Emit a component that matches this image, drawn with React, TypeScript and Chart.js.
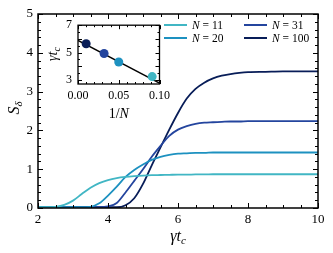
import React, { useEffect, useRef } from "react";
import { Chart, registerables } from "chart.js";
Chart.register(...registerables);

// ---- data ----
const tGrid = [2, 2.25, 2.5, 2.75, 3, 3.25, 3.5, 3.75, 4, 4.25, 4.5, 4.75, 5, 5.25, 5.5, 5.75, 6, 6.25, 6.5, 6.75, 7, 7.25, 7.5, 7.75, 8, 8.5, 9, 9.5, 10];
const sN11 = [0.02, 0.02, 0.03, 0.08, 0.19, 0.36, 0.52, 0.64, 0.72, 0.77, 0.8, 0.82, 0.835, 0.845, 0.85, 0.855, 0.86, 0.86, 0.865, 0.865, 0.87, 0.87, 0.87, 0.87, 0.87, 0.87, 0.87, 0.87, 0.87];
const sN20 = [0.02, 0.02, 0.02, 0.02, 0.02, 0.02, 0.03, 0.12, 0.32, 0.55, 0.8, 0.98, 1.12, 1.24, 1.32, 1.37, 1.4, 1.41, 1.42, 1.42, 1.43, 1.43, 1.43, 1.43, 1.43, 1.43, 1.43, 1.43, 1.43];
const sN31 = [0.02, 0.02, 0.02, 0.02, 0.02, 0.02, 0.02, 0.02, 0.04, 0.13, 0.4, 0.7, 1.0, 1.32, 1.6, 1.86, 2.02, 2.11, 2.17, 2.2, 2.21, 2.22, 2.23, 2.23, 2.24, 2.24, 2.24, 2.24, 2.24];
const sN100 = [0.02, 0.02, 0.02, 0.02, 0.02, 0.02, 0.02, 0.02, 0.02, 0.02, 0.07, 0.25, 0.62, 1.1, 1.56, 2.02, 2.45, 2.82, 3.07, 3.23, 3.34, 3.41, 3.45, 3.48, 3.5, 3.51, 3.52, 3.52, 3.52];
const seriesLabels = ["11", "20", "31", "100"];
const seriesColors = ["#41b6c4", "#1d91c0", "#24459e", "#081d58"];
const mainXTicks = [2, 4, 6, 8, 10];
const mainYTicks = [0, 1, 2, 3, 4, 5];

// inset
const invN = [0.091, 0.05, 0.032, 0.01];
const tcVals = [3.24, 4.31, 4.93, 5.64];
const pointColors = ["#41b6c4", "#1d91c0", "#24459e", "#081d58"];
const fitX = [0, 0.1];
const fitY = [5.89, 2.76];
const insetXTicks = [0, 0.05, 0.1];
const insetYTicks = [3, 5, 7];

const SERIF = "'Liberation Serif', 'DejaVu Serif', serif";

function line(ctx: CanvasRenderingContext2D, x1: number, y1: number, x2: number, y2: number) {
  ctx.beginPath();
  ctx.moveTo(x1, y1);
  ctx.lineTo(x2, y2);
  ctx.stroke();
}

function drawSubText(ctx: CanvasRenderingContext2D, main: string, sub: string, x: number, y: number, size: number, subSize: number, subDrop: number) {
  ctx.font = `italic ${size}px ${SERIF}`;
  const w1 = ctx.measureText(main).width;
  ctx.font = `italic ${subSize}px ${SERIF}`;
  const w2 = ctx.measureText(sub).width;
  const x0 = x - (w1 + w2) / 2;
  ctx.textAlign = "left";
  ctx.textBaseline = "alphabetic";
  ctx.font = `italic ${size}px ${SERIF}`;
  ctx.fillText(main, x0, y);
  ctx.font = `italic ${subSize}px ${SERIF}`;
  ctx.fillText(sub, x0 + w1, y + subDrop);
}

function drawTicks(chart: any, xMin: number, xMax: number, xStep: number, xMajorEvery: number, yMin: number, yMax: number, yStep: number, yMajorEvery: number, majL: number, minL: number) {
  const ctx = chart.ctx as CanvasRenderingContext2D;
  const a = chart.chartArea;
  const xs = chart.scales.x;
  const ys = chart.scales.y;
  ctx.strokeStyle = "#000";
  ctx.lineWidth = 1;
  const nx = Math.round((xMax - xMin) / xStep);
  for (let i = 0; i <= nx; i++) {
    const v = xMin + i * xStep;
    const px = Math.round(xs.getPixelForValue(v)) + 0.5;
    const L = i % xMajorEvery === 0 ? majL : minL;
    line(ctx, px, a.bottom, px, a.bottom - L);
    line(ctx, px, a.top, px, a.top + L);
  }
  const yStart = Math.ceil((yMin - 1e-9) / yStep);
  const yEnd = Math.floor((yMax + 1e-9) / yStep);
  for (let j = yStart; j <= yEnd; j++) {
    const v = j * yStep;
    const py = Math.round(ys.getPixelForValue(v)) + 0.5;
    const L = j % yMajorEvery === 0 ? majL : minL;
    line(ctx, a.left, py, a.left + L, py);
    line(ctx, a.right, py, a.right - L, py);
  }
}

const mainDecor = {
  id: "mainDecor",
  afterDraw(chart: any) {
    const ctx = chart.ctx as CanvasRenderingContext2D;
    const a = chart.chartArea;
    ctx.save();
    drawTicks(chart, 2, 10, 0.5, 4, 0, 5, 0.2, 5, 5, 3);
    ctx.lineWidth = 1.5;
    ctx.strokeStyle = "#000";
    ctx.strokeRect(a.left, a.top, a.right - a.left, a.bottom - a.top);

    // legend (two columns)
    const cols = [164, 244];
    const rows = [25, 38];
    for (let k = 0; k < seriesLabels.length; k++) {
      const c = Math.floor(k / 2);
      const r = k % 2;
      const x = cols[c];
      const y = rows[r];
      ctx.strokeStyle = seriesColors[k];
      ctx.lineWidth = 2;
      line(ctx, x, y, x + 23, y);
      ctx.fillStyle = "#000";
      ctx.textBaseline = "middle";
      ctx.textAlign = "left";
      ctx.font = `italic 11.5px ${SERIF}`;
      const tx = x + 28;
      ctx.fillText("N", tx, y + 0.5);
      const wN = ctx.measureText("N").width;
      ctx.font = `11.5px ${SERIF}`;
      ctx.fillText(" = " + seriesLabels[k], tx + wN, y + 0.5);
    }

    // axis titles
    ctx.fillStyle = "#000";
    drawSubText(ctx, "γt", "c", 178, 241, 16, 11, 3);
    ctx.save();
    ctx.translate(19, 108);
    ctx.rotate(-Math.PI / 2);
    drawSubText(ctx, "S", "δ", 0, 0, 16, 11, 3);
    ctx.restore();
    ctx.restore();
  },
};

const insetDecor = {
  id: "insetDecor",
  beforeDraw(chart: any) {
    const ctx = chart.ctx as CanvasRenderingContext2D;
    const a = chart.chartArea;
    ctx.save();
    ctx.fillStyle = "#fff";
    ctx.fillRect(a.left, a.top, a.right - a.left, a.bottom - a.top);
    ctx.restore();
  },
  afterDraw(chart: any) {
    const ctx = chart.ctx as CanvasRenderingContext2D;
    const a = chart.chartArea;
    ctx.save();
    drawTicks(chart, 0, 0.1, 0.01, 5, 2.7, 7, 0.5, 2, 4, 2);
    ctx.lineWidth = 1.3;
    ctx.strokeStyle = "#000";
    ctx.strokeRect(a.left, a.top, a.right - a.left, a.bottom - a.top);
    // titles
    ctx.fillStyle = "#000";
    ctx.textBaseline = "alphabetic";
    ctx.textAlign = "left";
    ctx.font = `14px ${SERIF}`;
    const w1 = ctx.measureText("1/").width;
    ctx.font = `italic 14px ${SERIF}`;
    const w2 = ctx.measureText("N").width;
    const cx = (a.left + a.right) / 2 - (w1 + w2) / 2;
    ctx.font = `14px ${SERIF}`;
    ctx.fillText("1/", cx, 106);
    ctx.font = `italic 14px ${SERIF}`;
    ctx.fillText("N", cx + w1, 106);
    ctx.save();
    ctx.translate(17, 42);
    ctx.rotate(-Math.PI / 2);
    drawSubText(ctx, "γt", "c", 0, 0, 14, 10, 3);
    ctx.restore();
    ctx.restore();
  },
};

export default function App() {
  const mainRef = useRef<HTMLCanvasElement>(null);
  const insetRef = useRef<HTMLCanvasElement>(null);

  useEffect(() => {
    const series = [sN11, sN20, sN31, sN100];
    const main = new Chart(mainRef.current!, {
      type: "line",
      data: {
        datasets: series.map((s, k) => ({
          label: "N = " + seriesLabels[k],
          data: tGrid.map((t, i) => ({ x: t, y: s[i] })),
          borderColor: seriesColors[k],
          borderWidth: 1.8,
          pointRadius: 0,
          cubicInterpolationMode: "monotone" as const,
          fill: false,
        })),
      },
      options: {
        responsive: false,
        animation: false,
        layout: { padding: { top: 14, right: 15, left: 0, bottom: 0 } },
        plugins: { legend: { display: false }, tooltip: { enabled: false } },
        scales: {
          x: {
            type: "linear",
            min: 2,
            max: 10,
            grid: { display: false, drawTicks: false },
            border: { display: false },
            afterBuildTicks: (scale: any) => {
              scale.ticks = mainXTicks.map((value) => ({ value }));
            },
            afterFit: (scale: any) => {
              scale.height = 45;
            },
            ticks: { font: { family: SERIF, size: 13 }, color: "#000", padding: 4, maxRotation: 0, autoSkip: false },
          },
          y: {
            type: "linear",
            min: 0,
            max: 5,
            grid: { display: false, drawTicks: false },
            border: { display: false },
            afterBuildTicks: (scale: any) => {
              scale.ticks = mainYTicks.map((value) => ({ value }));
            },
            afterFit: (scale: any) => {
              scale.width = 38;
            },
            ticks: { font: { family: SERIF, size: 13 }, color: "#000", padding: 5, autoSkip: false },
          },
        },
      },
      plugins: [mainDecor],
    });

    const inset = new Chart(insetRef.current!, {
      type: "scatter",
      data: {
        datasets: [
          {
            data: invN.map((v, i) => ({ x: v, y: tcVals[i] })),
            pointRadius: 4.5,
            pointBackgroundColor: pointColors,
            pointBorderWidth: 0,
            borderWidth: 0,
            order: 0,
          },
          {
            type: "line",
            data: fitX.map((v, i) => ({ x: v, y: fitY[i] })),
            borderColor: "#000",
            borderWidth: 1.5,
            pointRadius: 0,
            order: 1,
          } as any,
        ],
      },
      options: {
        responsive: false,
        animation: false,
        layout: { padding: { top: 13, right: 13, left: 0, bottom: 0 } },
        plugins: { legend: { display: false }, tooltip: { enabled: false } },
        scales: {
          x: {
            type: "linear",
            min: 0,
            max: 0.1,
            grid: { display: false, drawTicks: false },
            border: { display: false },
            afterBuildTicks: (scale: any) => {
              scale.ticks = insetXTicks.map((value) => ({ value }));
            },
            afterFit: (scale: any) => {
              scale.height = 40;
            },
            ticks: {
              font: { family: SERIF, size: 12 },
              color: "#000",
              padding: 5,
              maxRotation: 0,
              autoSkip: false,
              callback: (v: any) => Number(v).toFixed(2),
            },
          },
          y: {
            type: "linear",
            min: 2.7,
            max: 7,
            grid: { display: false, drawTicks: false },
            border: { display: false },
            afterBuildTicks: (scale: any) => {
              scale.ticks = insetYTicks.map((value) => ({ value }));
            },
            afterFit: (scale: any) => {
              scale.width = 38;
            },
            ticks: { font: { family: SERIF, size: 12 }, color: "#000", padding: 6, autoSkip: false },
          },
        },
      },
      plugins: [insetDecor],
    });

    return () => {
      main.destroy();
      inset.destroy();
    };
  }, []);

  return (
    <div style={{ position: "fixed", left: 0, top: 0, width: 333, height: 253, background: "#fff" }}>
      <canvas ref={mainRef} width={333} height={253} style={{ position: "absolute", left: 0, top: 0 }} />
      <canvas ref={insetRef} width={135} height={112} style={{ position: "absolute", left: 40, top: 12 }} />
    </div>
  );
}
